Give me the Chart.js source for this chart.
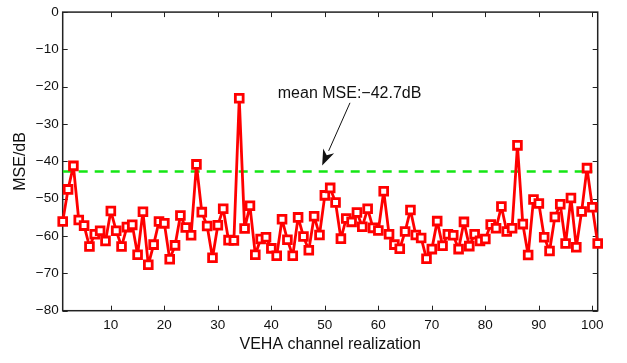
<!DOCTYPE html>
<html><head><meta charset="utf-8">
<script src="https://cdn.jsdelivr.net/npm/chart.js@4/dist/chart.umd.min.js"></script>
<style>html,body{margin:0;padding:0;background:#fff}canvas{display:block}</style>
</head><body>
<canvas id="c" width="627" height="363"></canvas>
<script>
const realizations = Array.from({length:101},(_,i)=>i+1);
const mseValues = [
-56.1,-47.5,-41.2,-55.7,-57.2,-62.8,-59.5,-58.6,-61.3,-53.3,
-58.6,-62.8,-57.6,-57.0,-65.0,-53.5,-67.7,-62.3,-56.1,-56.6,
-66.2,-62.5,-54.5,-57.7,-59.8,-40.8,-53.6,-57.3,-65.8,-57.1,
-52.7,-61.1,-61.2,-23.1,-58.0,-51.9,-65.0,-60.8,-60.3,-63.3,
-65.3,-55.5,-61.0,-65.3,-55.0,-60.1,-63.8,-54.7,-59.7,-49.1,
-47.1,-51.0,-60.7,-55.3,-56.2,-53.7,-57.5,-52.7,-57.8,-58.5,
-48.0,-59.5,-62.3,-63.4,-58.8,-53.0,-59.7,-60.5,-66.1,-63.5,
-56.0,-62.6,-59.5,-59.8,-63.5,-56.2,-62.7,-59.5,-61.3,-60.8,
-56.9,-57.9,-52.1,-58.8,-57.9,-35.7,-56.8,-65.1,-50.2,-51.3,
-60.3,-64.0,-54.9,-51.5,-62.0,-49.8,-63.0,-53.4,-41.8,-52.3,
-62.0];
const meanMSE = -42.7;
const meanSpan = [1, 100];
const xTicks = [10,20,30,40,50,60,70,80,90,100];
const yTicks = [0,-10,-20,-30,-40,-50,-60,-70,-80];
const annotationText = 'mean MSE:\u221242.7dB';
const annotationTextPos = {x: 41.2, y: -21.9};
const arrowFrom = {x: 54.7, y: -24.3};
const arrowTo = {x: 49.5, y: -41.1};

const fontFam = '"Liberation Sans", Arial, Helvetica, sans-serif';

const boxPlugin = {
  id: 'box',
  beforeDatasetsDraw(chart) {
    const {ctx, chartArea: a, scales: {x, y}} = chart;
    ctx.save();
    ctx.strokeStyle = '#222';
    ctx.lineWidth = 1.5;
    ctx.strokeRect(a.left, a.top, a.right - a.left, a.bottom - a.top);
    ctx.lineWidth = 1;
    const L = 5;
    ctx.beginPath();
    xTicks.forEach(v => {
      const px = Math.round(x.getPixelForValue(v)) + 0.5;
      ctx.moveTo(px, a.bottom); ctx.lineTo(px, a.bottom - L);
      ctx.moveTo(px, a.top); ctx.lineTo(px, a.top + L);
    });
    yTicks.forEach(v => {
      const py = Math.round(y.getPixelForValue(v)) + 0.5;
      ctx.moveTo(a.left, py); ctx.lineTo(a.left + L, py);
      ctx.moveTo(a.right, py); ctx.lineTo(a.right - L, py);
    });
    ctx.stroke();
    ctx.restore();
  },
  afterDraw(chart) {
    const {ctx, scales: {x, y}} = chart;
    ctx.save();
    ctx.fillStyle = '#111';
    ctx.font = '16px ' + fontFam;
    ctx.textBaseline = 'middle';
    ctx.textAlign = 'left';
    ctx.fillText(annotationText, x.getPixelForValue(annotationTextPos.x), y.getPixelForValue(annotationTextPos.y));
    const x0 = x.getPixelForValue(arrowFrom.x), y0 = y.getPixelForValue(arrowFrom.y);
    const x1 = x.getPixelForValue(arrowTo.x), y1 = y.getPixelForValue(arrowTo.y);
    const ang = Math.atan2(y1 - y0, x1 - x0);
    const hl = 16, hw = 6;
    const bx = x1 - hl * Math.cos(ang), by = y1 - hl * Math.sin(ang);
    ctx.strokeStyle = '#111';
    ctx.lineWidth = 1;
    ctx.beginPath(); ctx.moveTo(x0, y0); ctx.lineTo(bx, by); ctx.stroke();
    ctx.beginPath();
    ctx.moveTo(x1, y1);
    ctx.lineTo(bx + hw * Math.sin(ang), by - hw * Math.cos(ang));
    ctx.lineTo(x1 - hl*0.7*Math.cos(ang), y1 - hl*0.7*Math.sin(ang));
    ctx.lineTo(bx - hw * Math.sin(ang), by + hw * Math.cos(ang));
    ctx.closePath(); ctx.fill();
    ctx.restore();
  }
};

new Chart(document.getElementById('c'), {
  type: 'line',
  data: {
    datasets: [
      {
        data: meanSpan.map(v => ({x: v, y: meanMSE})),
        borderColor: '#14e614',
        borderWidth: 2.5,
        borderDash: [9, 7],
        pointRadius: 0,
        fill: false,
        order: 2
      },
      {
        data: realizations.map((r, i) => ({x: r, y: mseValues[i]})),
        borderColor: '#ff0000',
        borderWidth: 2.8,
        borderJoinStyle: 'round',
        pointStyle: 'rect',
        pointRadius: 5.5,
        pointBorderWidth: 2.8,
        pointBackgroundColor: '#ffffff',
        pointBorderColor: '#ff0000',
        tension: 0,
        fill: false,
        clip: 12,
        order: 1
      }
    ]
  },
  options: {
    responsive: false,
    animation: false,
    devicePixelRatio: 1,
    layout: {padding: {left: 0, right: 29.3, top: 10.7, bottom: 0}},
    plugins: {legend: {display: false}, tooltip: {enabled: false}},
    scales: {
      x: {
        type: 'linear', min: 1, max: 101,
        grid: {display: false, drawTicks: false},
        border: {display: false},
        afterBuildTicks: s => { s.ticks = xTicks.map(v => ({value: v})); },
        afterFit: s => { s.height = 52.3; },
        ticks: {padding: 6, color: '#111', font: {size: 13.5, family: fontFam}, maxRotation: 0},
        title: {display: true, text: 'VEHA channel realization', color: '#111',
                font: {size: 16, family: fontFam}, padding: {top: 0, bottom: 8.4}}
      },
      y: {
        type: 'linear', min: -80, max: 0,
        grid: {display: false, drawTicks: false},
        border: {display: false},
        afterBuildTicks: s => { s.ticks = yTicks.map(v => ({value: v})); },
        afterFit: s => { s.width = 62.7; },
        ticks: {padding: 4, color: '#111', font: {size: 13.5, family: fontFam},
                callback: v => String(v).replace('-', '\u2212')},
        title: {display: true, text: 'MSE/dB', color: '#111',
                font: {size: 16, family: fontFam}, padding: {top: 11.1, bottom: 0}}
      }
    }
  },
  plugins: [boxPlugin]
});
</script>
</body></html>
